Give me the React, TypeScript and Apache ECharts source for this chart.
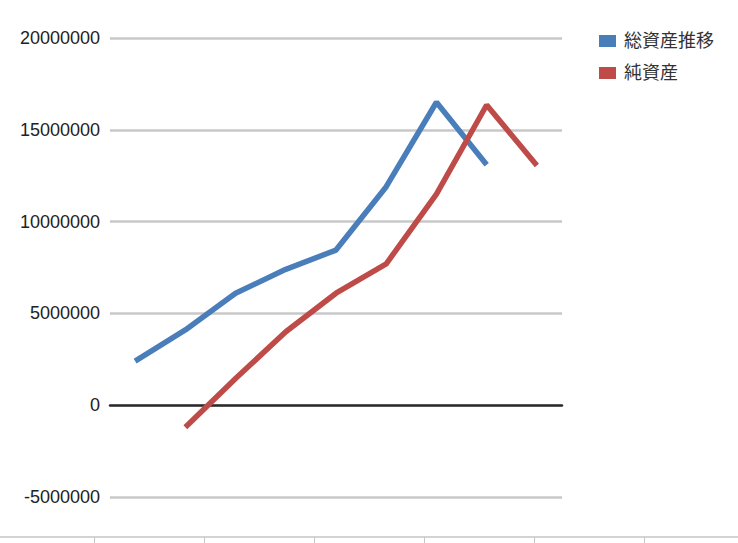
import React, { useEffect, useRef } from "react";
import * as echarts from "echarts";

const categories = ["1", "2", "3", "4", "5", "6", "7", "8", "9"];
const totalAssets = [2400000, 4100000, 6100000, 7400000, 8450000, 11900000, 16500000, 13100000, null];
const netAssets = [null, -1200000, 1450000, 4000000, 6100000, 7700000, 11500000, 16350000, 13050000];
const seriesNames = ["総資産推移", "純資産"];
const yMin = -5000000;
const yMax = 20000000;
const yInterval = 5000000;

const FONT = "'Liberation Sans', Arial, 'Noto Sans CJK JP', sans-serif";

export default function App() {
  const ref = useRef<HTMLDivElement>(null);
  useEffect(() => {
    if (!ref.current) return;
    const chart = echarts.init(ref.current, undefined, { renderer: "svg" });
    chart.setOption({
      animation: false,
      backgroundColor: "#ffffff",
      textStyle: { fontFamily: FONT },
      legend: {
        orient: "vertical",
        left: 594,
        top: 27,
        itemGap: 14,
        itemWidth: 17,
        itemHeight: 12,
        icon: "rect",
        data: seriesNames,
        textStyle: { fontSize: 18, color: "#333", fontFamily: FONT, padding: [0, 0, 0, 3] },
      },
      grid: [
        { left: 110, right: 176, top: 38, bottom: 46, containLabel: false },
        { left: 94, right: 0, top: 537, height: 0 },
      ],
      xAxis: [
        {
          type: "category",
          gridIndex: 0,
          data: categories,
          boundaryGap: true,
          axisLine: { show: true, onZero: true, lineStyle: { color: "#2b2b2b", width: 2.5 } },
          axisTick: { show: false },
          axisLabel: { show: false },
          splitLine: { show: false },
        },
        {
          type: "value",
          gridIndex: 1,
          min: 0,
          max: 644,
          interval: 110,
          axisLine: { show: true, lineStyle: { color: "#d4d4d4", width: 2 } },
          axisTick: { show: true, length: 6, lineStyle: { color: "#c8c8c8", width: 1 } },
          axisLabel: { show: false },
          splitLine: { show: false },
        },
      ],
      yAxis: [
        {
          type: "value",
          gridIndex: 0,
          min: yMin,
          max: yMax,
          interval: yInterval,
          axisLine: { show: false },
          axisTick: { show: false },
          axisLabel: {
            fontSize: 18,
            color: "#222",
            margin: 10,
            fontFamily: FONT,
            formatter: (v: number) => String(v),
          },
          splitLine: { lineStyle: { color: "#c8c8c8", width: 2.5 } },
        },
        {
          type: "value",
          gridIndex: 1,
          show: false,
        },
      ],
      graphic: [
        {
          type: "line",
          shape: { x1: 0, y1: 537, x2: 94, y2: 537 },
          style: { stroke: "#d4d4d4", lineWidth: 2 },
        },
      ],
      series: [
        {
          name: seriesNames[0],
          type: "line",
          data: totalAssets,
          showSymbol: false,
          symbol: "none",
          color: "#4a7ebb",
          lineStyle: { color: "#4a7ebb", width: 5.5 },
          z: 3,
        },
        {
          name: seriesNames[1],
          type: "line",
          data: netAssets,
          showSymbol: false,
          symbol: "none",
          color: "#be4b48",
          lineStyle: { color: "#be4b48", width: 5.5 },
          z: 4,
        },
      ],
    });
    return () => chart.dispose();
  }, []);
  return (
    <div
      ref={ref}
      style={{ position: "absolute", left: 0, top: 0, width: 738, height: 543 }}
    />
  );
}
